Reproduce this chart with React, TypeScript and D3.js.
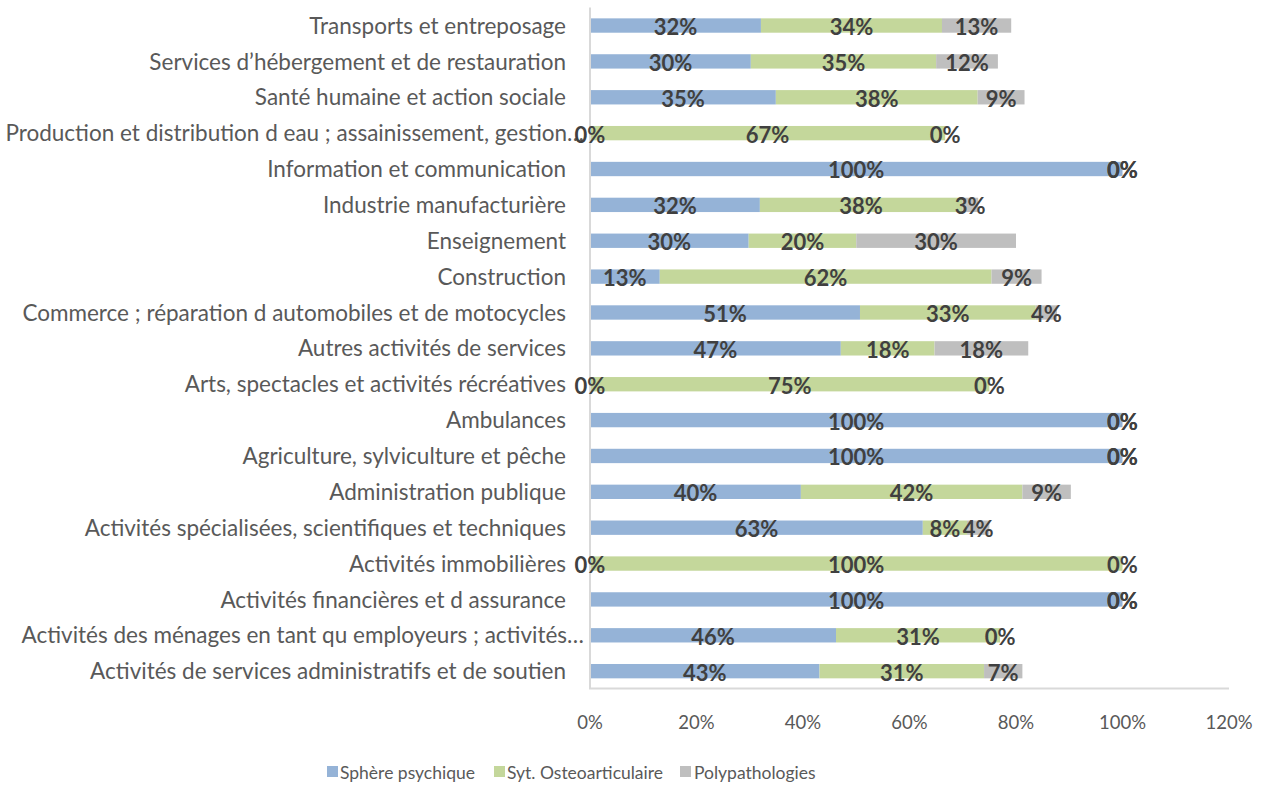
import React from "react";
import * as d3 from "d3";

const categories = [
  "Transports et entreposage",
  "Services d’hébergement et de restauration",
  "Santé humaine et action sociale",
  "Production et distribution d eau ; assainissement, gestion…",
  "Information et communication",
  "Industrie manufacturière",
  "Enseignement",
  "Construction",
  "Commerce ; réparation d automobiles et de motocycles",
  "Autres activités de services",
  "Arts, spectacles et activités récréatives",
  "Ambulances",
  "Agriculture, sylviculture et pêche",
  "Administration publique",
  "Activités spécialisées, scientifiques et techniques",
  "Activités immobilières",
  "Activités financières et d assurance",
  "Activités des ménages en tant qu employeurs ; activités…",
  "Activités de services administratifs et de soutien",
];

const spherePsychique = [32.1, 30.2, 34.9, 0, 100, 31.9, 29.8, 13.1, 50.7, 47.1, 0, 100, 100, 39.6, 62.5, 0, 100, 46.2, 43.1];
const osteoarticulaire = [34.0, 34.8, 37.9, 66.7, 0, 38.0, 20.2, 62.3, 33.0, 17.6, 75.0, 0, 0, 41.6, 8.3, 100, 0, 30.8, 30.9];
const polypathologies = [13.0, 11.6, 8.8, 0, 0, 3.0, 30.0, 9.4, 4.0, 17.6, 0, 0, 0, 9.1, 4.2, 0, 0, 0, 7.2];

const seriesNames = ["Sphère psychique", "Syt. Osteoarticulaire", "Polypathologies"];
const seriesColors = ["#95B3D7", "#C4D79B", "#BFBFBF"];
const xTicks = [0, 0.2, 0.4, 0.6, 0.8, 1.0, 1.2];

const FONT = "Lato, 'Open Sans', sans-serif";

export default function App() {
  const width = 1263;
  const height = 807;
  const x = d3.scaleLinear().domain([0, 1.2]).range([590, 1229]);
  const y = d3
    .scaleBand<string>()
    .domain(categories)
    .range([7.6, 689.1])
    .paddingInner(0.6)
    .paddingOuter(0.3);

  const rows = categories.map((c, i) => ({
    cat: c,
    v: [spherePsychique[i] / 100, osteoarticulaire[i] / 100, polypathologies[i] / 100],
  }));
  const stack = d3.stack<any>().keys(["0", "1", "2"]).value((d: any, k: string) => d.v[+k]);
  const stacked = stack(rows as any);
  const pct = d3.format(".0%");
  const bw = y.bandwidth();

  const legendItems = [
    { x: 327, tx: 340 },
    { x: 494, tx: 507 },
    { x: 680, tx: 694 },
  ];

  return (
    <svg
      width={width}
      height={height}
      style={{ position: "absolute", left: 0, top: 0, background: "#fff" }}
      fontFamily={FONT}
    >
      <rect x={0} y={0} width={width} height={height} fill="#fff" />
      {stacked.map((s, si) => (
        <g key={si} fill={seriesColors[si]}>
          {s.map((d: any, i: number) => (
            <rect
              key={i}
              x={x(d[0])}
              y={y(categories[i])!}
              width={Math.max(0, x(d[1]) - x(d[0]))}
              height={bw}
            />
          ))}
        </g>
      ))}
      <line x1={590} x2={590} y1={7.6} y2={689} stroke="#D9D9D9" strokeWidth={2} />
      <line x1={589} x2={1229} y1={688.5} y2={688.5} stroke="#D9D9D9" strokeWidth={2} />
      {categories.map((c) => (
        <text
          key={c}
          x={c.endsWith("…") ? 584 : 566}
          y={y(c)! + bw / 2}
          dy="0.36em"
          textAnchor="end"
          fontSize={22.5}
          fill="#595959"
        >
          {c}
        </text>
      ))}
      {stacked.map((s, si) =>
        s.map((d: any, i: number) => (
          <text
            key={`${si}-${i}`}
            x={(x(d[0]) + x(d[1])) / 2}
            y={y(categories[i])! + bw / 2 + 1.5}
            dy="0.36em"
            textAnchor="middle"
            fontSize={22}
            fontWeight="bold"
            fill="#404040"
          >
            {pct(d[1] - d[0])}
          </text>
        ))
      )}
      {xTicks.map((t) => (
        <text key={t} x={x(t)} y={729} textAnchor="middle" fontSize={18.5} fill="#595959">
          {pct(t)}
        </text>
      ))}
      {seriesNames.map((n, i) => (
        <g key={n}>
          <rect x={legendItems[i].x} y={766} width={11} height={11} fill={seriesColors[i]} />
          <text x={legendItems[i].tx} y={778.5} fontSize={17.5} fill="#595959">
            {n}
          </text>
        </g>
      ))}
    </svg>
  );
}
